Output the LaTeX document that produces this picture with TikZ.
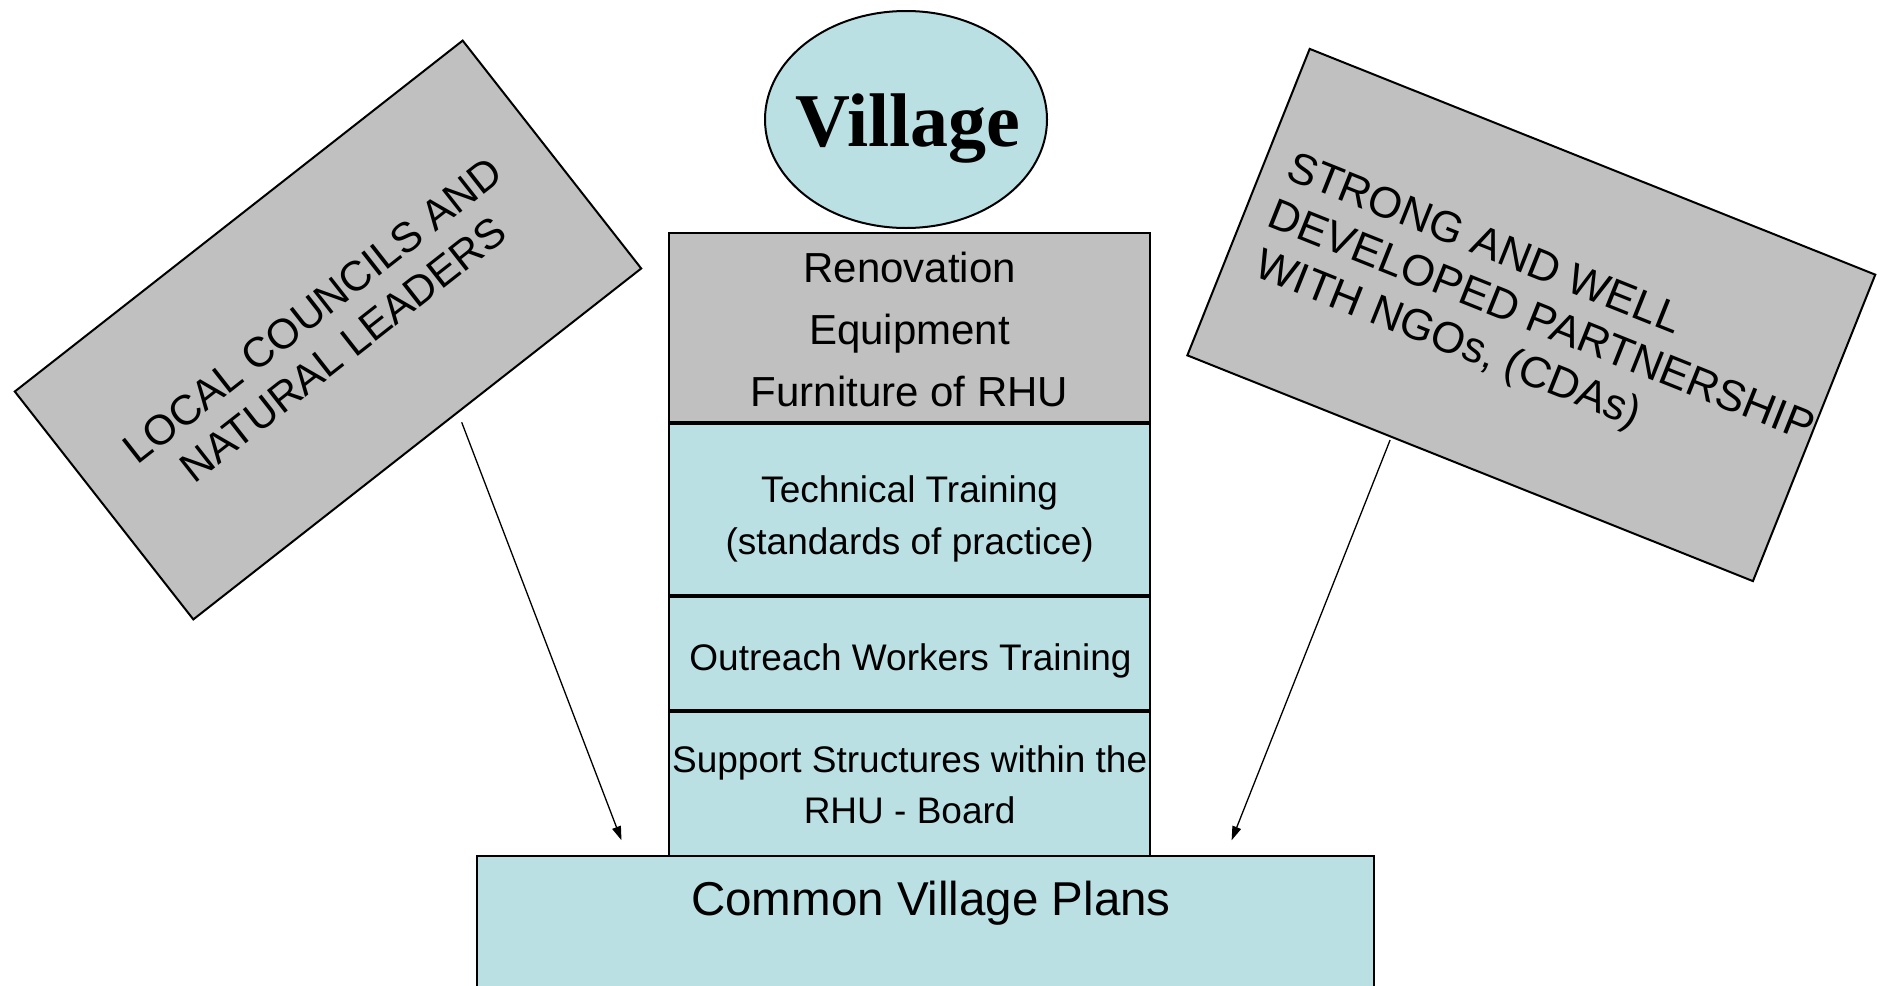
\documentclass[tikz,border=0pt]{standalone}
\usepackage{fontspec}
\setmainfont{Liberation Sans}
\newfontfamily\vserif{Liberation Serif}
\usetikzlibrary{arrows.meta,shapes.geometric,calc}
\definecolor{paleteal}{HTML}{BBE0E3}
\definecolor{boxgray}{HTML}{C0C0C0}
\begin{document}
\begin{tikzpicture}[x=1pt,y=-1pt,
  box/.style={draw=black, line width=2pt, inner sep=0pt},
  grayfill/.style={fill=boxgray},
  tealfill/.style={fill=paleteal},
  conn/.style={line width=1.3pt, -{Triangle[length=14pt,width=9pt]}},
  txt/.style={inner sep=0pt, align=center}]
\clip (0,0) rectangle (1881,985);

% left tilted box
\node[box, grayfill, rotate=38.08, minimum width=569, minimum height=289.5,
      align=center, font=\fontsize{42}{49.5}\selectfont] (lc) at (328,330)
      {LOCAL COUNCILS AND\\NATURAL LEADERS};

% right tilted box
\node[box, grayfill, rotate=-21.76, minimum width=609, minimum height=330] (ngo) at (1531.3,315) {};
\begin{scope}[shift={(ngo.north west)}, rotate=-21.76]
  \node[inner sep=0pt, align=left, anchor=north west, rotate=-21.76,
        font=\fontsize{43.5}{51}\selectfont] (ngotxt) at (25,100)
        {STRONG AND WELL\\DEVELOPED PARTNERSHIP\\\hspace*{7pt}WITH NGOs, (CDAs)};
\end{scope}

% village ellipse
\node[draw=black, line width=2pt, tealfill, ellipse, minimum width=282, minimum height=217, inner sep=0pt] (village) at (906,119.5) {};
\node[inner sep=0pt, anchor=base, font=\vserif\bfseries\fontsize{76}{76}\selectfont] (villagetxt) at (908,146) {Village};

% central stack
\node[box, grayfill, minimum width=480.7, minimum height=189] (reno) at (909.65,327.2) {};
\node[txt, font=\fontsize{42}{62}\selectfont] (renotxt) at ($(reno.center)+(0,2.5)$) {Renovation\\Equipment\\Furniture of RHU};

\node[box, tealfill, minimum width=480.7, minimum height=171] (tech) at (909.65,509.5) {};
\node[txt, font=\fontsize{37}{52}\selectfont] (techtxt) at ($(tech.center)+(0,9.8)$) {Technical Training\\(standards of practice)};

\node[box, tealfill, minimum width=480.7, minimum height=113] (outr) at (909.65,653.5) {};
\node[inner sep=0pt, anchor=base, font=\fontsize{37}{50}\selectfont] (outrtxt) at (910.5,670.7) {Outreach Workers Training};

\node[box, tealfill, minimum width=896.7, minimum height=150] (cvp) at (925.65,931) {};
\node[box, tealfill, minimum width=480.7, minimum height=144] (supp) at (909.65,784) {};
\node[txt, font=\fontsize{37}{50.7}\selectfont] (supptxt) at ($(supp.center)+(0,0.8)$) {Support Structures within the\\RHU - Board};

\node[inner sep=0pt, anchor=base, font=\fontsize{47.5}{50}\selectfont] (cvptxt) at (931,915) {Common Village Plans};

% connectors
\coordinate (lcstart) at (461.7,422.3);
\coordinate (lcend) at (621.5,840.3);
\coordinate (ngostart) at (1390.1,440);
\coordinate (ngoend) at (1231.6,840.3);
\draw[conn] (lcstart) -- (lcend);
\draw[conn] (ngostart) -- (ngoend);
\end{tikzpicture}
\end{document}
